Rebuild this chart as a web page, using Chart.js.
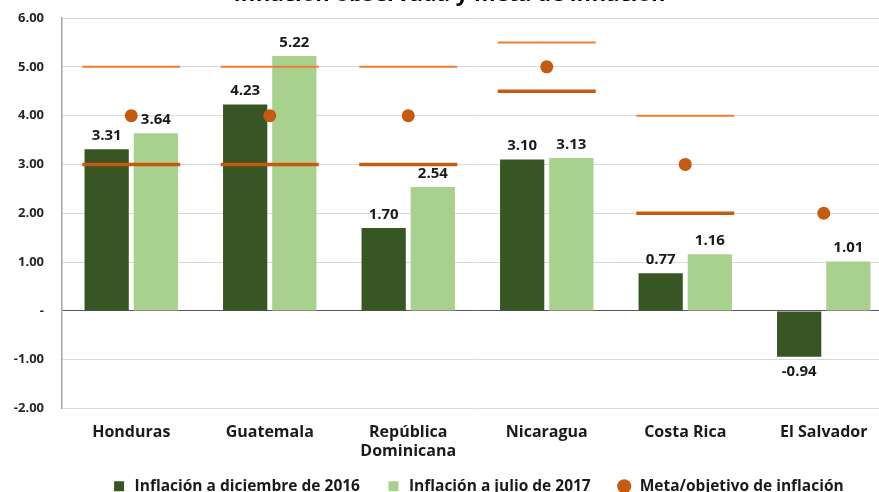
<!DOCTYPE html>
<html>
<head>
<meta charset="utf-8">
<script src="https://cdn.jsdelivr.net/npm/chart.js@4"></script>
<style>
  html, body { margin: 0; padding: 0; background: #fff; overflow: hidden; }
  body { width: 879px; height: 492px; position: relative; }
  #wrap { position: absolute; left: 0; top: 0; width: 893px; height: 504px; }
</style>
</head>
<body>
<div id="wrap"><canvas id="inflacionChart"></canvas></div>
<script>
// Datos por país
const paises = ['Honduras', 'Guatemala', ['República', 'Dominicana'], 'Nicaragua', 'Costa Rica', 'El Salvador'];
const inflacionDic2016 = [3.31, 4.23, 1.70, 3.10, 0.77, -0.94];
const inflacionJul2017 = [3.64, 5.22, 2.54, 3.13, 1.16, 1.01];
const metaInflacion = [4, 4, 4, 5, 3, 2];
const rangoSuperior = [5, 5, 5, 5.5, 4, null];
const rangoInferior = [3, 3, 3, 4.5, 2, null];
const yTicks = [-2, -1, 0, 1, 2, 3, 4, 5, 6];

const fuente = '"Open Sans", sans-serif';

// Etiquetas de valor sobre (o bajo) cada barra.
const etiquetasBarras = {
    id: 'etiquetasBarras',
    afterDatasetsDraw(chart) {
        const ctx = chart.ctx;
        ctx.save();
        ctx.font = `bold 15px ${fuente}`;
        ctx.fillStyle = '#1a1a1a';
        ctx.textAlign = 'center';
        chart.data.datasets.forEach((ds, i) => {
            if (ds.type !== 'bar') return;
            chart.getDatasetMeta(i).data.forEach((bar, j) => {
                const v = ds.data[j];
                if (v >= 0) {
                    ctx.textBaseline = 'bottom';
                    ctx.fillText(v.toFixed(2), bar.x, bar.y - 6);
                } else {
                    ctx.textBaseline = 'top';
                    ctx.fillText(v.toFixed(2), bar.x, bar.y + 7);
                }
            });
        });
        ctx.restore();
    }
};

new Chart(document.getElementById('inflacionChart').getContext('2d'), {
    data: {
        labels: paises,
        datasets: [
            {
                type: 'line',
                label: 'Rango superior',
                data: rangoSuperior,
                showLine: false,
                pointStyle: 'line',
                pointRadius: 49,
                pointHoverRadius: 49,
                borderColor: '#ed7d31',
                borderWidth: 2,
                order: 1
            },
            {
                type: 'line',
                label: 'Rango inferior',
                data: rangoInferior,
                showLine: false,
                pointStyle: 'line',
                pointRadius: 49,
                pointHoverRadius: 49,
                borderColor: '#c55a11',
                borderWidth: 3.5,
                order: 1
            },
            {
                type: 'bar',
                label: 'Inflación a diciembre de 2016',
                data: inflacionDic2016,
                backgroundColor: '#375623',
                pointStyle: 'rect',
                order: 3
            },
            {
                type: 'bar',
                label: 'Inflación a julio de 2017',
                data: inflacionJul2017,
                backgroundColor: '#a9d18e',
                pointStyle: 'rect',
                order: 3
            },
            {
                type: 'line',
                label: 'Meta/objetivo de inflación',
                data: metaInflacion,
                showLine: false,
                pointStyle: 'circle',
                pointRadius: 6.5,
                pointHoverRadius: 6.5,
                backgroundColor: '#c55a11',
                borderColor: '#c55a11',
                borderWidth: 0,
                order: 0
            }
        ]
    },
    options: {
        responsive: true,
        maintainAspectRatio: false,
        animation: false,
        datasets: {
            bar: { categoryPercentage: 0.71, barPercentage: 0.9 }
        },
        // Sin autoPadding: los segmentos de rango tienen radio grande.
        layout: { autoPadding: false, padding: { left: 6, right: 0, top: 0, bottom: 0 } },
        scales: {
            x: {
                grid: { display: false, drawTicks: false },
                border: { display: false },
                afterFit: (axis) => { axis.height = 52; },
                ticks: {
                    color: '#1a1a1a',
                    font: { family: fuente, size: 16, weight: 'bold', lineHeight: 1.15 },
                    padding: 15,
                    maxRotation: 0
                }
            },
            y: {
                min: -2,
                max: 6,
                afterBuildTicks: (axis) => { axis.ticks = yTicks.map(v => ({ value: v })); },
                afterFit: (axis) => {
                    axis.width = 56;
                    axis.paddingTop = 0;
                    axis.paddingBottom = 0;
                },
                grid: {
                    color: (c) => c.tick && c.tick.value === 0 ? '#595959' : '#d9d9d9',
                    drawTicks: false
                },
                border: { color: '#a6a6a6', width: 1.5 },
                ticks: {
                    color: '#262626',
                    font: { family: fuente, size: 13, weight: 'bold' },
                    padding: 18,
                    callback: (v) => v === 0 ? '-' : Number(v).toFixed(2)
                }
            }
        },
        plugins: {
            title: {
                display: true,
                text: 'Inflación observada y meta de inflación',
                color: '#000',
                font: { family: fuente, size: 22, weight: 'bold' },
                padding: { top: -18, bottom: 9.6 }
            },
            legend: {
                position: 'bottom',
                fullSize: false,
                labels: {
                    usePointStyle: true,
                    boxHeight: 10,
                    padding: 18,
                    color: '#1a1a1a',
                    font: { family: fuente, size: 15.5, weight: 'bold' },
                    // Espacio extra tras las dos primeras entradas.
                    generateLabels: (chart) => {
                        const items = Chart.defaults.plugins.legend.labels.generateLabels(chart)
                            .filter(item => !item.text.startsWith('Rango'));
                        items.forEach(item => {
                            if (item.datasetIndex !== 4) item.text += '\u2002';
                        });
                        return items;
                    },
                    sort: (a, b) => a.datasetIndex - b.datasetIndex
                }
            },
            tooltip: { enabled: false }
        }
    },
    plugins: [etiquetasBarras]
});
</script>
</body>
</html>
